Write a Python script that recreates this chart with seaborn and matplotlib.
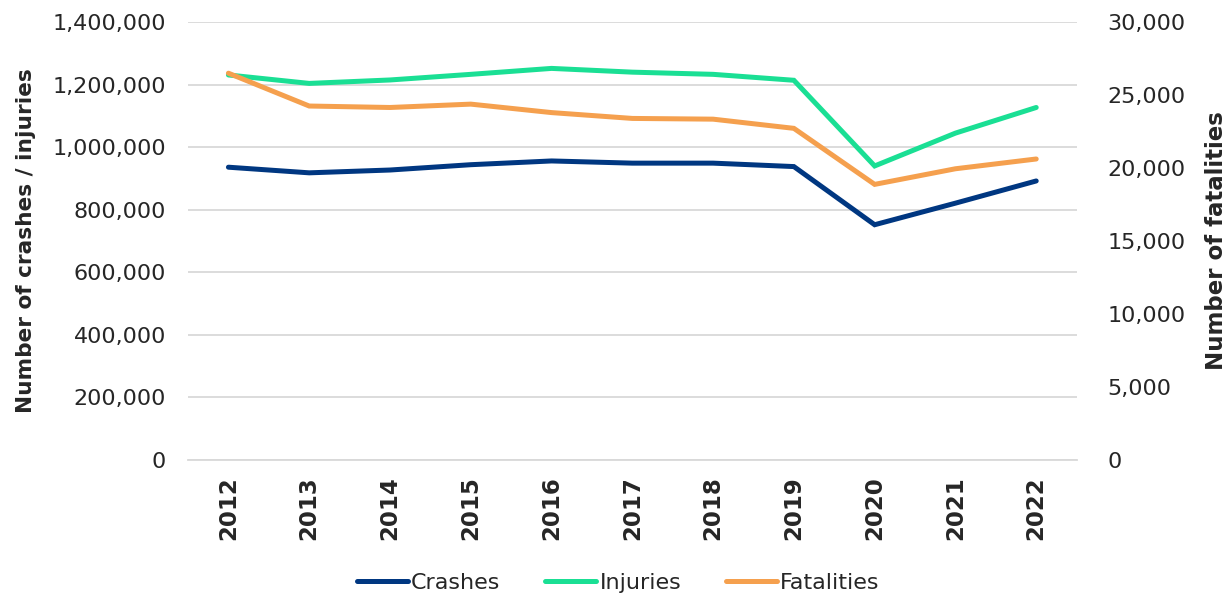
import pandas as pd
import matplotlib.pyplot as plt
import seaborn as sns
from matplotlib.ticker import FuncFormatter, MultipleLocator
from matplotlib.lines import Line2D

sns.set_style("white")
plt.rcParams['font.family'] = ['DejaVu Sans']

years = [2012, 2013, 2014, 2015, 2016, 2017, 2018, 2019, 2020, 2021, 2022]
crashes = [936000, 918000, 927000, 944000, 956000, 949000, 949000, 938000, 752000, 821000, 892000]
injuries = [1231000, 1204000, 1215000, 1233000, 1252000, 1240000, 1233000, 1214000, 940000, 1045000, 1127000]
fatalities = [26500, 24250, 24150, 24380, 23800, 23400, 23350, 22720, 18880, 19950, 20620]

df = pd.DataFrame({'Year': years, 'Crashes': crashes, 'Injuries': injuries, 'Fatalities': fatalities})

c_crash = '#003781'
c_inj = '#1ADF94'
c_fat = '#F5A04E'
lw = 3.6
fs = 16

fig = plt.figure(figsize=(12.29, 5.98), dpi=100)
ax = fig.add_axes([0.153, 0.231, 0.723, 0.732])
ax2 = ax.twinx()

sns.lineplot(data=df, x='Year', y='Crashes', ax=ax, color=c_crash, linewidth=lw, zorder=3)
sns.lineplot(data=df, x='Year', y='Injuries', ax=ax, color=c_inj, linewidth=lw, zorder=3)
sns.lineplot(data=df, x='Year', y='Fatalities', ax=ax2, color=c_fat, linewidth=lw, zorder=3)
for l in ax.lines + ax2.lines:
    l.set_solid_capstyle('round')
    l.set_solid_joinstyle('miter')

ax.set_xlim(2011.5, 2022.5)
ax.set_ylim(0, 1400000)
ax2.set_ylim(0, 30000)
ax.yaxis.set_major_locator(MultipleLocator(200000))
ax2.yaxis.set_major_locator(MultipleLocator(5000))
fmt = FuncFormatter(lambda v, p: f'{int(v):,}')
ax.yaxis.set_major_formatter(fmt)
ax2.yaxis.set_major_formatter(fmt)
ax.set_xticks(years)
ax.set_xticklabels([str(y) for y in years], rotation=90, fontsize=16.5, fontweight='bold')

ax.grid(axis='y', color='#D9D9D9', linewidth=1.3)
ax.set_axisbelow(True)
for a in (ax, ax2):
    for s in a.spines.values():
        s.set_visible(False)
ax.spines['bottom'].set_visible(True)
ax.spines['bottom'].set_color('#D9D9D9')
ax.spines['bottom'].set_linewidth(1.3)
ax.tick_params(axis='y', labelsize=fs, length=0, pad=16)
ax2.tick_params(axis='y', labelsize=fs, length=0, pad=22)
ax.tick_params(axis='x', length=0, pad=12)

ax.set_xlabel('')
ax.set_ylabel('Number of crashes / injuries', fontsize=15.6, fontweight='bold', labelpad=12)
ax2.set_ylabel('Number of fatalities', fontsize=16.5, fontweight='bold', labelpad=14)

handles = [Line2D([], [], color=c, linewidth=lw, solid_capstyle='round') for c in (c_crash, c_inj, c_fat)]
fig.legend(handles, ['Crashes', 'Injuries', 'Fatalities'], loc='lower center', ncol=3,
           bbox_to_anchor=(0.503, -0.025), frameon=False, fontsize=fs, handlelength=2.3,
           handletextpad=0.15, columnspacing=2.0)

fig.savefig('out.png', dpi=100)
